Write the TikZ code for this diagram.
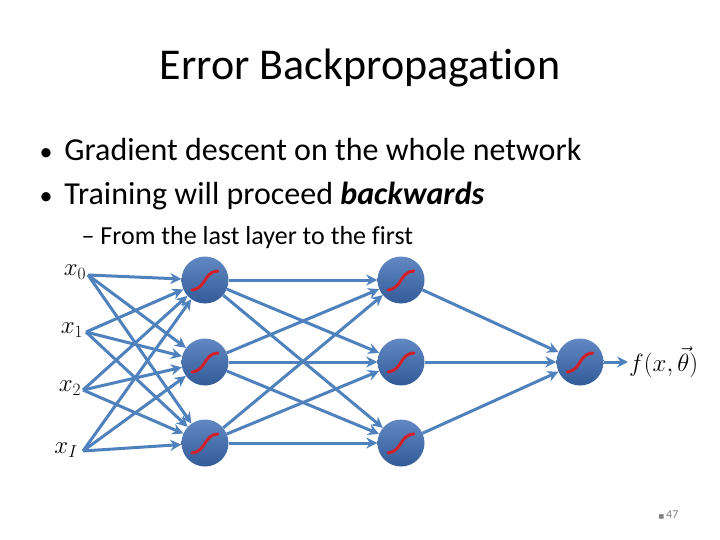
\documentclass[tikz,border=0pt]{standalone}
\usepackage{fontspec}
\setmainfont{Carlito}[Ligatures={NoCommon}]
\newfontfamily\dejavu{DejaVu Sans}
\usetikzlibrary{arrows.meta}
\definecolor{lnk}{HTML}{4F81BD}
\definecolor{ball}{HTML}{3A6BB3}
\definecolor{sig}{HTML}{D0202A}
\tikzset{
  neuron/.style={circle,minimum size=47pt,inner sep=0pt,
    top color=ball!80!white,bottom color=ball!85!black,draw=none,
    path picture={\draw[sig,line width=3pt,line cap=round]
      ([shift={(-13pt,-10pt)}]path picture bounding box.center)
      .. controls ([shift={(2pt,-8pt)}]path picture bounding box.center)
      and ([shift={(-2pt,8pt)}]path picture bounding box.center)
      .. ([shift={(13pt,9pt)}]path picture bounding box.center);}},
  conn/.style={draw=lnk,line width=3pt,-{Stealth[length=11pt,width=11pt]}},
  inlab/.style={font=\fontsize{26}{26}\selectfont,inner sep=1pt},
}
\begin{document}
\begin{tikzpicture}[x=1pt,y=-1pt]
\useasboundingbox (0,0) rectangle (720,540);
\node (title) at (360,68) {\fontsize{44}{48}\selectfont Error Backpropagation};
\node[anchor=west] (b1) at (36,150) {\fontsize{32}{36}\selectfont {\fontsize{26}{30}\selectfont•}\hspace{12pt}Gradient descent on the whole network};
\node[anchor=west] (b2) at (36,196) {\fontsize{32}{36}\selectfont {\fontsize{26}{30}\selectfont•}\hspace{12pt}Training will proceed \textbf{\textit{backwards}}};
\node[anchor=west] (b3) at (78,238) {\fontsize{26}{30}\selectfont –\hspace{6pt}From the last layer to the first};
\node[inlab] (x0) at (75,272) {$x_0$};
\node[inlab] (x1) at (72,330) {$x_1$};
\node[inlab] (x2) at (70,388) {$x_2$};
\node[inlab] (xI) at (66,450) {$x_I$};
\coordinate (s0) at (88,275);
\coordinate (s1) at (86,332);
\coordinate (s2) at (83,390);
\coordinate (sI) at (83,451);
\node[neuron] (a1) at (205,280) {};
\node[neuron] (a2) at (205,362) {};
\node[neuron] (a3) at (205,443) {};
\node[neuron] (b1n) at (401,280) {};
\node[neuron] (b2n) at (401,362) {};
\node[neuron] (b3n) at (401,443) {};
\node[neuron] (o) at (580,362) {};
\node[inlab,anchor=west] (f) at (628,362) {$f(x,\vec{\theta})$};
\foreach \s in {s0,s1,s2,sI}{\foreach \t in {a1,a2,a3}{\draw[conn] (\s) -- (\t);}}
\foreach \s in {a1,a2,a3}{\foreach \t in {b1n,b2n,b3n}{\draw[conn] (\s) -- (\t);}}
\foreach \s in {b1n,b2n,b3n}{\draw[conn] (\s) -- (o);}
\draw[conn] (o) -- (f.west);
\node[anchor=west,text=gray] (pg) at (655,515) {\fontsize{12}{12}\selectfont{\dejavu\fontsize{6}{8}\selectfont ■}\,47};
\end{tikzpicture}
\end{document}
